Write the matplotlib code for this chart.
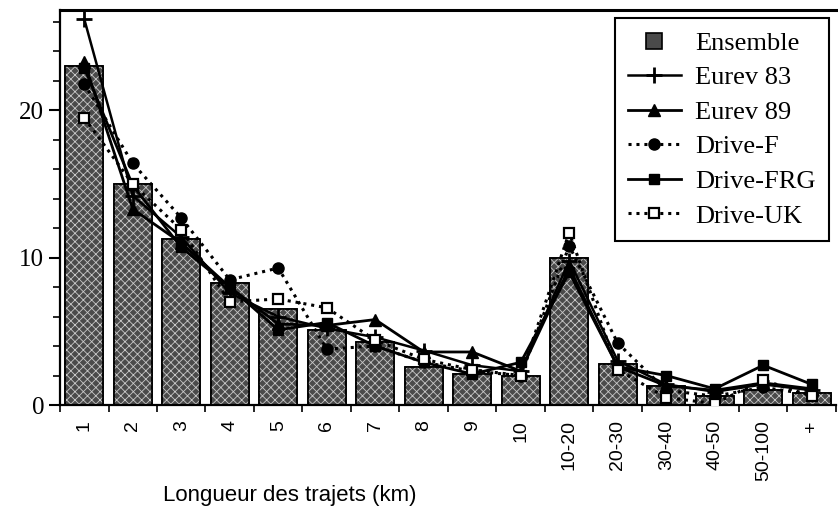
import matplotlib
matplotlib.use('Agg')
import matplotlib.pyplot as plt
import numpy as np
from matplotlib.lines import Line2D

# categories (trip length, km) and shares (%)
categories = ['1', '2', '3', '4', '5', '6', '7', '8', '9', '10',
              '10-20', '20-30', '30-40', '40-50', '50-100', '+']
ensemble = [23.0, 15.0, 11.3, 8.3, 6.5, 5.1, 4.3, 2.6, 2.1, 2.0, 10.0, 2.8, 1.3, 0.6, 1.0, 0.8]
eurev_83 = [26.2, 14.2, 11.4, 7.6, 6.0, 5.2, 4.6, 3.7, 2.7, 2.3, 9.8, 3.0, 1.4, 0.9, 1.4, 1.0]
eurev_89 = [23.3, 13.3, 11.0, 8.0, 5.5, 5.4, 5.8, 3.6, 3.6, 2.3, 9.3, 2.6, 1.3, 1.0, 1.5, 1.1]
drive_f = [21.8, 16.4, 12.7, 8.5, 9.3, 3.8, 4.0, 2.9, 2.3, 2.0, 10.8, 4.2, 1.0, 0.6, 1.2, 0.7]
drive_frg = [22.9, 14.9, 10.7, 8.0, 5.1, 5.6, 4.0, 2.9, 2.1, 2.9, 9.0, 2.6, 2.0, 1.1, 2.7, 1.4]
drive_uk = [19.5, 15.0, 11.9, 7.0, 7.2, 6.6, 4.4, 3.1, 2.4, 2.0, 11.7, 2.4, 0.5, 0.1, 1.7, 0.6]

plt.rcParams['hatch.linewidth'] = 0.6

fig = plt.figure(figsize=(8.38, 5.09), dpi=100)
ax = fig.add_axes([0.0716, 0.2043, 0.926, 0.7757])

x = np.arange(len(categories))

# stippled bars: dark fill, light hatch overlay, black outline
ax.bar(x, ensemble, width=0.78, color='#4a4a4a', edgecolor='black', linewidth=1.2, zorder=1)
ax.bar(x, ensemble, width=0.78, color='none', edgecolor='#c8c8c8', hatch='xxxx', linewidth=0, zorder=1.5)
ax.bar(x, ensemble, width=0.78, color='none', edgecolor='black', linewidth=1.2, zorder=1.6)

styles = {
    'Eurev 83': dict(color='black', lw=1.8, marker='+', ms=11, mew=2),
    'Eurev 89': dict(color='black', lw=2.0, marker='^', ms=8),
    'Drive-F': dict(color='black', lw=2.2, ls=(0, (1, 1.6)), marker='o', ms=8),
    'Drive-FRG': dict(color='black', lw=2.0, marker='s', ms=7),
    'Drive-UK': dict(color='black', lw=2.2, ls=(0, (1, 1.6)), marker='s', ms=7,
                     mfc='white', mec='black', mew=1.6),
}
series = {'Eurev 83': eurev_83, 'Eurev 89': eurev_89, 'Drive-F': drive_f,
          'Drive-FRG': drive_frg, 'Drive-UK': drive_uk}
for name, vals in series.items():
    ax.plot(x, vals, zorder=3, **styles[name])

ax.set_xlim(-0.5, len(categories) - 0.5)
ax.set_ylim(0, 26.8)

# x ticks: marks at category boundaries, labels at centres
ax.set_xticks(x)
ax.set_xticklabels(categories, rotation=90, fontsize=14, family='Liberation Sans')
ax.set_xticks(np.arange(-0.5, len(categories)), minor=True)
ax.tick_params(axis='x', which='major', length=0, pad=11)
ax.tick_params(axis='x', which='minor', length=5, width=1.2, direction='out')

ax.set_yticks([0, 10, 20])
ax.set_yticklabels(['0', '10', '20'], fontsize=18, family='Liberation Serif')
ax.set_yticks(np.arange(0, 27, 2), minor=True)
ax.tick_params(axis='y', which='major', length=8, width=1.5, direction='out')
ax.tick_params(axis='y', which='minor', length=5, width=1.2, direction='out')

for side in ['left', 'bottom']:
    ax.spines[side].set_linewidth(1.6)
ax.spines['top'].set_linewidth(2.2)
ax.spines['right'].set_visible(False)

# legend
handles = [Line2D([], [], ls='none', marker='s', ms=11, mfc='#4a4a4a', mec='black', mew=1.2)]
handles += [Line2D([], [], **styles[name]) for name in series]
labels = ['Ensemble'] + list(series.keys())
leg = ax.legend(handles, labels, loc='upper right', bbox_to_anchor=(0.991, 0.98),
                prop={'family': 'Liberation Serif', 'size': 19}, frameon=True,
                fancybox=False, edgecolor='black', framealpha=1, handlelength=2.0,
                labelspacing=0.42, borderpad=0.5, handletextpad=0.55, borderaxespad=0)
leg.get_frame().set_linewidth(1.5)

fig.text(290 / 838, 1 - 495 / 509, 'Longueur des trajets (km)', ha='center', va='center',
         fontsize=16, family='Liberation Sans')

fig.savefig('out.png', dpi=100)
